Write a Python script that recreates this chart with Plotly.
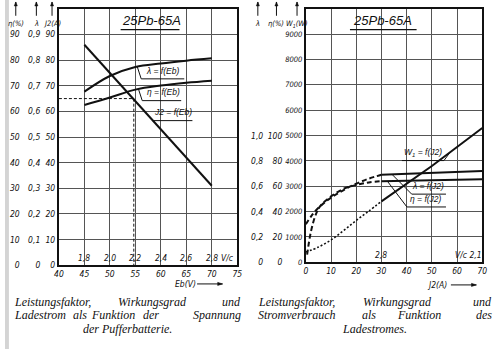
import plotly.graph_objects as go

# ---------------- data: left chart (function of battery voltage Eb) ----------------
eb = [45, 50, 55, 60, 65, 70]
lam_eb = [0.677, 0.738, 0.773, 0.787, 0.798, 0.807]
eta_eb = [62.5, 65.4, 68.5, 70.1, 71.2, 72.0]
j2_eb_x = [45, 70]
j2_eb = [86, 31]
ref_j2 = 65          # design charging current (A)
ref_eb = 54.7        # battery voltage at that current

eb_ticks = [40, 45, 50, 55, 60, 65, 70, 75]
cell_ticks_pos = [45, 50, 55, 60, 65, 70]
cell_ticks = ["1,8", "2,0", "2,2", "2,4", "2,6", "2,8"]
pct_ticks = [0, 10, 20, 30, 40, 50, 60, 70, 80, 90]
lam_ticks = [0, 0.1, 0.2, 0.3, 0.4, 0.5, 0.6, 0.7, 0.8, 0.9]
lam_ticktext = ["0", "0,1", "0,2", "0,3", "0,4", "0,5", "0,6", "0,7", "0,8", "0,9"]

# ---------------- data: right chart (function of charging current J2) ----------------
j_lam_dash = [0, 2, 5, 10, 15, 20, 25, 30]
lam_j_dash = [0.30, 0.36, 0.43, 0.51, 0.57, 0.62, 0.66, 0.69]
j_eta_dash = [0.5, 2, 4, 6, 10, 15, 20, 25, 30]
eta_j_dash = [6, 24, 38, 45, 52, 58, 61, 63, 64]
j_solid = [30, 70]
lam_j_solid = [0.69, 0.72]
eta_j_solid = [64, 65.6]
j_w_dot = [0, 5, 10, 15, 20, 25, 30]
w_dot = [400, 600, 880, 1250, 1650, 2020, 2400]
j_w_solid = [30, 40, 50, 60, 70]
w_solid = [2400, 3100, 3800, 4550, 5300]

j_ticks = [0, 10, 20, 30, 40, 50, 60, 70]
w_ticks = [0, 1000, 2000, 3000, 4000, 5000, 6000, 7000, 8000, 9000]
eta_r_ticks = [0, 20, 40, 60, 80, 100]
lam_r_ticks = [0, 0.2, 0.4, 0.6, 0.8, 1.0]
lam_r_ticktext = ["0", "0,2", "0,4", "0,6", "0,8", "1,0"]

W, H = 500, 354
BLACK = "#111111"
NARROW = "Liberation Sans Narrow, DejaVu Sans Condensed, Liberation Sans"
TF = dict(family=NARROW, size=8.5, color=BLACK, style="italic")


def px(x):
    return x / W


def py(y):
    return 1 - y / H


fig = go.Figure()
line = dict(color=BLACK, width=2)

# left traces
fig.add_trace(go.Scatter(x=eb, y=lam_eb, xaxis="x", yaxis="y2", mode="lines", line=dict(line, shape="spline")))
fig.add_trace(go.Scatter(x=eb, y=eta_eb, xaxis="x", yaxis="y3", mode="lines", line=dict(line, shape="spline")))
fig.add_trace(go.Scatter(x=j2_eb_x, y=j2_eb, xaxis="x", yaxis="y", mode="lines", line=line))
fig.add_trace(go.Scatter(x=[40, ref_eb, ref_eb], y=[ref_j2, ref_j2, 0], xaxis="x", yaxis="y", mode="lines",
                         line=dict(color=BLACK, width=1, dash="3px,2px")))

# right traces
fig.add_trace(go.Scatter(x=j_lam_dash, y=lam_j_dash, xaxis="x2", yaxis="y6", mode="lines",
                         line=dict(color=BLACK, width=2, dash="5px,3px", shape="spline")))
fig.add_trace(go.Scatter(x=j_eta_dash, y=eta_j_dash, xaxis="x2", yaxis="y5", mode="lines",
                         line=dict(color=BLACK, width=2, dash="5px,3px", shape="spline")))
fig.add_trace(go.Scatter(x=j_solid, y=lam_j_solid, xaxis="x2", yaxis="y6", mode="lines", line=line))
fig.add_trace(go.Scatter(x=j_solid, y=eta_j_solid, xaxis="x2", yaxis="y5", mode="lines", line=line))
fig.add_trace(go.Scatter(x=j_w_dot, y=w_dot, xaxis="x2", yaxis="y4", mode="lines",
                         line=dict(color=BLACK, width=1.6, dash="2px,2px", shape="spline")))
fig.add_trace(go.Scatter(x=j_w_solid, y=w_solid, xaxis="x2", yaxis="y4", mode="lines", line=line))

LD = [0.2401, 0.9746]
RD = [0.2486, 0.9746]
grid = dict(showgrid=True, gridcolor="#555555", gridwidth=1, zeroline=False, ticks="",
            showline=True, linecolor=BLACK, linewidth=2, mirror=True, tickfont=TF)
free = dict(showgrid=False, zeroline=False, showline=False, ticks="", tickfont=TF, anchor="free")

fig.update_layout(
    width=W, height=H, margin=dict(l=0, r=0, t=0, b=0),
    paper_bgcolor="white", plot_bgcolor="white", showlegend=False,
    xaxis=dict(grid, domain=[0.11, 0.474], range=[40, 75], anchor="y", tickvals=eb_ticks,
               ticktext=[str(v) for v in eb_ticks], ticklabelstandoff=0),
    yaxis=dict(grid, domain=LD, range=[0, 100], anchor="x", tickvals=pct_ticks,
               ticktext=[str(v) for v in pct_ticks], ticklabelstandoff=0),
    yaxis2=dict(free, overlaying="y", position=0.072, range=[0, 1], tickvals=lam_ticks, ticktext=lam_ticktext),
    yaxis3=dict(free, overlaying="y", position=0.030, range=[0, 100], tickvals=pct_ticks,
                ticktext=[str(v) for v in pct_ticks]),
    xaxis2=dict(grid, domain=[0.614, 0.974], range=[0, 70], anchor="y4", tickvals=j_ticks,
                ticktext=[str(v) for v in j_ticks], ticklabelstandoff=0),
    yaxis4=dict(grid, domain=RD, range=[0, 10000], anchor="x2", tickvals=w_ticks,
                ticktext=[str(v) for v in w_ticks], ticklabelstandoff=0,
                tickfont=dict(TF, size=7.5)),
    yaxis5=dict(free, overlaying="y4", position=0.566, range=[0, 200], tickvals=eta_r_ticks,
                ticktext=[str(v) for v in eta_r_ticks]),
    yaxis6=dict(free, overlaying="y4", position=0.527, range=[0, 2], tickvals=lam_r_ticks,
                ticktext=lam_r_ticktext),
)

ann = []
shapes = []


def text(x, y, t, font, xref="paper", yref="paper", xanchor="center", yanchor="middle", pad=1):
    if xref == "paper":
        x = px(x)
    if yref == "paper":
        y = py(y)
    ann.append(dict(xref=xref, yref=yref, x=x, y=y, text=t, showarrow=False, font=font,
                    xanchor=xanchor, yanchor=yanchor, borderpad=pad))


def arrow(x0, y0, x1, y1):
    """Thin arrow drawn with shapes, pixel coords, head at (x1, y1)."""
    shapes.append(dict(type="line", xref="paper", yref="paper", x0=px(x0), y0=py(y0), x1=px(x1), y1=py(y1),
                       line=dict(color=BLACK, width=1)))
    if x0 == x1:   # vertical, pointing up
        pts = [(x1, y1), (x1 - 1.6, y1 + 4), (x1 + 1.6, y1 + 4)]
    else:          # horizontal, pointing right
        pts = [(x1, y1), (x1 - 5, y1 - 1.6), (x1 - 5, y1 + 1.6)]
    d = "M" + " L".join(f"{px(a)},{py(b)}" for a, b in pts) + " Z"
    shapes.append(dict(type="path", xref="paper", yref="paper", path=d, fillcolor=BLACK,
                       line=dict(color=BLACK, width=0.5)))


# scan edge strip
shapes.append(dict(type="rect", xref="paper", yref="paper", x0=0, x1=px(4), y0=0, y1=1,
                   fillcolor="#d4d4d4", line=dict(width=0), layer="below"))

# axis column headers with arrows
for x, t in [(11, "η(%)"), (32, "λ"), (48, "J2(A)"), (258, "λ"), (277, "η(%)"), (298, "W<sub>1</sub>(W)")]:
    text(x, 24, t, dict(TF, size=7.5))
    arrow(x, 16, x, 2)

# titles
TT = dict(family="Liberation Sans", size=13, color=BLACK, style="italic")
for cx, x0, x1 in [(149, 118, 178), (385, 352, 420)]:
    text(cx, 21, "25Pb-65A", TT)
    shapes.append(dict(type="line", xref="paper", yref="paper", x0=px(x0), x1=px(x1), y0=py(30), y1=py(30),
                       line=dict(color=BLACK, width=1.3)))

# cell-voltage row, left
for xv, t in zip(cell_ticks_pos, cell_ticks):
    text(xv, 0, t, TF, xref="x", yref="y", yanchor="bottom")
text(73.0, 0, "V/c", TF, xref="x", yref="y", yanchor="bottom")
# cell-voltage marks, right
text(30, 0, "2,8", TF, xref="x2", yref="y4", yanchor="bottom")
text(64.6, 0, "V/c 2,1", TF, xref="x2", yref="y4", yanchor="bottom")

# axis titles with arrows
for tx, ax0, ax1, yy, t in [(184, 196, 222, 288, "Eb(V)"), (441, 455, 481, 289, "J2(A)")]:
    text(tx, yy, t, TF)
    arrow(ax0, yy, ax1, yy)

LBL = dict(family="Liberation Sans", size=8.5, color=BLACK, style="italic")
# curve labels left (data coords of Eb / 0-100 scale)
for t, tx, ty, path in [
    ("λ = f(Eb)", 60.4, 73.2, [(55.4, 77.3), (56.15, 72.7), (64.6, 72.7)]),
    ("η = f(Eb)", 60.6, 64.7, [(55.6, 68.8), (56.35, 64.2), (64.0, 64.2)]),
    ("J2 = f(Eb)", 62.3, 56.9, [(58.3, 56.4), (66.2, 56.4)]),
]:
    text(tx, ty, t, LBL, xref="x", yref="y", yanchor="bottom")
    d = "M" + " L".join(f"{a},{b}" for a, b in path)
    shapes.append(dict(type="path", xref="x", yref="y", path=d, line=dict(color=BLACK, width=1)))

# curve labels right
for t, tx, ty, path in [
    ("W<sub>1</sub> = f(J2)", 46.5, 4050, [(38.1, 4013), (54.8, 4013), (57.6, 4390)]),
    ("λ = f(J2)", 48.6, 2720, [(34.2, 3467), (42.0, 2688), (55.6, 2688)]),
    ("η = f(J2)", 47.8, 2210, [(32.3, 3205), (40.1, 2182), (55.6, 2182)]),
]:
    text(tx, ty, t, LBL, xref="x2", yref="y4", yanchor="bottom")
    d = "M" + " L".join(f"{a},{b}" for a, b in path)
    shapes.append(dict(type="path", xref="x2", yref="y4", path=d, line=dict(color=BLACK, width=1)))

# captions (justified lines placed word by word)
CF = dict(family="Liberation Serif", size=12, color=BLACK, style="italic")
cap = [
    (306.5, [("Leistungsfaktor,", 8, "left"), ("Wirkungsgrad", 151, "center"), ("und", 242, "right"),
             ("Leistungsfaktor,", 257, "left"), ("Wirkungsgrad", 400, "center"), ("und", 498, "right")]),
    (320, [("Ladestrom", 8, "left"), ("als", 77, "center"), ("Funktion", 110, "center"),
           ("der", 149, "center"), ("Spannung", 242, "right"),
           ("Stromverbrauch", 257, "left"), ("als", 371, "center"), ("Funktion", 422, "center"),
           ("des", 498, "right")]),
    (333.5, [("der Pufferbatterie.", 125, "center"), ("Ladestromes.", 377, "center")]),
]
for yy, words in cap:
    for t, x, a in words:
        text(x, yy, t, CF, xanchor=a, pad=0)

fig.update_layout(annotations=ann, shapes=shapes)
fig.write_html("out.html")
